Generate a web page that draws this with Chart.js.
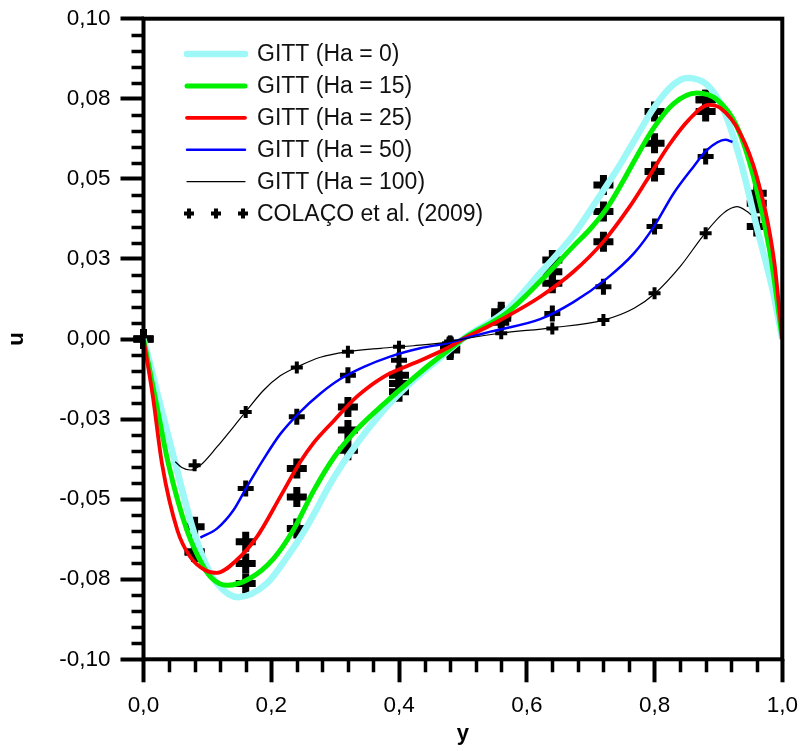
<!DOCTYPE html>
<html>
<head>
<meta charset="utf-8">
<script src="https://cdn.jsdelivr.net/npm/chart.js@4/dist/chart.umd.min.js"></script>
<style>
  html, body { margin: 0; padding: 0; background: #fff; }
  #wrap { width: 800px; height: 751px; position: relative; }
</style>
</head>
<body>
<div id="wrap"><canvas id="chart"></canvas></div>
<script>
// Velocity profiles u(y) across the channel, GITT solution for several Hartmann numbers
const xHa0 = [0, 0.012, 0.023, 0.05, 0.078, 0.097, 0.115, 0.148, 0.193, 0.225, 0.25, 0.27, 0.29, 0.31, 0.33, 0.35, 0.386, 0.423, 0.46, 0.5, 0.569, 0.621, 0.673, 0.71, 0.74, 0.767, 0.799, 0.83, 0.851, 0.882, 0.908, 0.934, 0.96, 0.986, 1];
const uHa0 = [0, -0.009, -0.018, -0.039, -0.0597, -0.070, -0.0763, -0.0806, -0.0763, -0.068, -0.0605, -0.0535, -0.046, -0.0395, -0.0338, -0.0285, -0.020, -0.0128, -0.0066, 0, 0.0091, 0.0206, 0.0325, 0.0434, 0.0525, 0.0615, 0.0722, 0.0795, 0.0815, 0.0794, 0.0716, 0.056, 0.035, 0.0143, 0];

const xHa15 = [0, 0.018, 0.039, 0.068, 0.091, 0.107, 0.131, 0.167, 0.204, 0.235, 0.266, 0.298, 0.329, 0.371, 0.412, 0.449, 0.491, 0.5, 0.569, 0.621, 0.673, 0.70, 0.726, 0.75, 0.768, 0.799, 0.83, 0.866, 0.898, 0.929, 0.955, 0.981, 1];
const uHa15 = [0, -0.018, -0.039, -0.0597, -0.070, -0.0747, -0.0769, -0.0747, -0.0685, -0.0595, -0.0475, -0.037, -0.0293, -0.0212, -0.014, -0.0078, -0.0014, 0, 0.0082, 0.018, 0.029, 0.0345, 0.041, 0.049, 0.0555, 0.066, 0.0735, 0.0768, 0.0747, 0.0663, 0.0507, 0.0268, 0];

const xHa25 = [0, 0.0147, 0.029, 0.053, 0.073, 0.0966, 0.115, 0.146, 0.1775, 0.214, 0.245, 0.266, 0.298, 0.334, 0.376, 0.423, 0.475, 0.5, 0.55, 0.621, 0.673, 0.72, 0.76, 0.786, 0.8225, 0.854, 0.885, 0.903, 0.934, 0.96, 0.987, 1];
const uHa25 = [0, -0.018, -0.039, -0.0597, -0.068, -0.0722, -0.073, -0.069, -0.0618, -0.0493, -0.0385, -0.0325, -0.0255, -0.018, -0.0118, -0.0076, -0.0029, 0, 0.005, 0.0132, 0.021, 0.0304, 0.041, 0.049, 0.0605, 0.0685, 0.0731, 0.0721, 0.0643, 0.0507, 0.0247, 0];

const xHa50 = [0.089, 0.115, 0.141, 0.162, 0.188, 0.214, 0.245, 0.277, 0.308, 0.345, 0.386, 0.433, 0.475, 0.5, 0.543, 0.621, 0.673, 0.726, 0.768, 0.799, 0.83, 0.861, 0.882, 0.911, 0.922];
const uHa50 = [-0.062, -0.0592, -0.0534, -0.0461, -0.0375, -0.0297, -0.0228, -0.017, -0.0125, -0.0087, -0.0055, -0.0029, -0.0013, 0, 0.0023, 0.0062, 0.0115, 0.019, 0.0268, 0.0351, 0.0455, 0.0538, 0.059, 0.0622, 0.0615];

const xHa100 = [0.0496, 0.06, 0.073, 0.089, 0.115, 0.141, 0.162, 0.188, 0.214, 0.245, 0.277, 0.318, 0.371, 0.423, 0.475, 0.5, 0.558, 0.639, 0.72, 0.768, 0.801, 0.84, 0.879, 0.908, 0.929, 0.945, 0.951];
const uHa100 = [-0.0383, -0.0401, -0.0409, -0.0394, -0.0337, -0.0274, -0.0222, -0.016, -0.0115, -0.0083, -0.0057, -0.004, -0.0029, -0.0021, -0.001, 0, 0.0018, 0.0035, 0.0059, 0.0096, 0.0143, 0.0226, 0.033, 0.0393, 0.0413, 0.0398, 0.0388];

// Reference values, COLAÇO et al. (2009)
const colacoX = [0, 0.08, 0.16, 0.24, 0.32, 0.40, 0.48, 0.56, 0.64, 0.72, 0.80, 0.88, 0.96];
const colacoHa0 = [0, -0.0586, -0.0763, -0.0592, -0.0347, -0.0165, -0.0034, 0.0085, 0.0247, 0.0481, 0.071, 0.0747, 0.0351];
const colacoHa15 = [0, -0.0665, -0.0701, -0.0493, -0.0284, -0.0139, -0.0029, 0.0075, 0.021, 0.0398, 0.0611, 0.0747, 0.0424];
const colacoHa25 = [0, -0.0665, -0.0633, -0.0404, -0.0212, -0.0113, -0.0024, 0.0065, 0.0174, 0.0304, 0.0523, 0.071, 0.0455];
const colacoHa50 = [0, -0.0586, -0.0467, -0.0243, -0.0113, -0.0066, -0.0015, 0.0049, 0.008, 0.0163, 0.0351, 0.057, 0.035];
const colacoHa100 = [0, -0.0394, -0.0228, -0.0089, -0.004, -0.0024, -0.0008, 0.0018, 0.0033, 0.0059, 0.0143, 0.033, null];

// Axis ticks
const xTickValues = [0, 0.2, 0.4, 0.6, 0.8, 1.0];
const xTickLabels = ['0,0', '0,2', '0,4', '0,6', '0,8', '1,0'];
const yTickValues = [-0.1, -0.075, -0.05, -0.025, 0, 0.025, 0.05, 0.075, 0.1];
const yTickLabels = ['-0,10', '-0,08', '-0,05', '-0,03', '0,00', '0,03', '0,05', '0,08', '0,10'];

const FONT = "'Liberation Sans', Arial, Helvetica, sans-serif";

const pts = (xs, ys) => xs.map((x, i) => ({ x: x, y: ys[i] }));

function curve(label, xs, ys, color, width, order) {
  return {
    label: label, data: pts(xs, ys), borderColor: color, backgroundColor: color,
    borderWidth: width, pointRadius: 0, cubicInterpolationMode: 'monotone',
    fill: false, order: order, isCurve: true
  };
}
function markers(xs, ys, radius, width, primary) {
  return {
    label: 'COLAÇO et al. (2009)', data: pts(xs, ys), showLine: false,
    pointStyle: 'cross', pointRadius: radius, pointBorderWidth: width,
    borderColor: '#000', backgroundColor: '#000', order: 20,
    clip: false, isMarker: primary
  };
}

const datasets = [
  curve('GITT (Ha = 0)', xHa0, uHa0, '#9ef8f8', 6.5, 5),
  curve('GITT (Ha = 15)', xHa15, uHa15, '#00f000', 5, 4),
  curve('GITT (Ha = 25)', xHa25, uHa25, '#ff0000', 3.8, 3),
  curve('GITT (Ha = 50)', xHa50, uHa50, '#0000ff', 2.5, 2),
  curve('GITT (Ha = 100)', xHa100, uHa100, '#000000', 1.2, 1),
  markers(colacoX, colacoHa0, 10, 7, true),
  markers(colacoX, colacoHa15, 10, 7, false),
  markers(colacoX, colacoHa25, 10, 7, false),
  markers(colacoX, colacoHa50, 8, 5, false),
  markers(colacoX, colacoHa100, 6, 4, false)
];

function labelFor(values, labels, v) {
  for (let i = 0; i < values.length; i++) {
    if (Math.abs(values[i] - v) < 1e-9) return labels[i];
  }
  return '';
}

// Box frame, minor ticks and the legend panel
const decorPlugin = {
  id: 'decor',
  afterDraw(chart) {
    const { ctx, chartArea: a, scales } = chart;
    const sx = scales.x, sy = scales.y;
    ctx.save();
    ctx.strokeStyle = '#000';
    ctx.lineCap = 'butt';

    // minor ticks
    ctx.lineWidth = 3.5;
    ctx.beginPath();
    for (let k = -20; k <= 20; k++) {
      if (k % 5 === 0) continue;
      const py = Math.round(sy.getPixelForValue(k * 0.005)) + 0.5;
      ctx.moveTo(a.left - 12, py);
      ctx.lineTo(a.left, py);
    }
    for (let k = 0; k <= 25; k++) {
      if (k % 5 === 0) continue;
      const px = Math.round(sx.getPixelForValue(k * 0.04)) + 0.5;
      ctx.moveTo(px, a.bottom);
      ctx.lineTo(px, a.bottom + 13);
    }
    ctx.stroke();

    // frame
    ctx.lineWidth = 4;
    ctx.strokeRect(a.left, a.top, a.right - a.left, a.bottom - a.top);

    // legend
    const x0 = 185, x1 = 247, tx = 257, y0 = 54, dy = 31.9;
    const rows = chart.data.datasets.filter(d => d.isCurve || d.isMarker);
    ctx.font = '23px ' + FONT;
    ctx.textBaseline = 'middle';
    ctx.textAlign = 'left';
    rows.forEach((d, i) => {
      const y = y0 + dy * i;
      if (d.isCurve) {
        ctx.strokeStyle = d.borderColor;
        ctx.lineWidth = d.borderWidth;
        ctx.lineCap = 'round';
        ctx.beginPath();
        ctx.moveTo(x0 + 2, y);
        ctx.lineTo(x1 - 2, y);
        ctx.stroke();
      } else {
        ctx.strokeStyle = '#000';
        ctx.lineWidth = 4;
        ctx.lineCap = 'butt';
        [189, 216, 243].forEach(cx => {
          ctx.beginPath();
          ctx.moveTo(cx - 5, y); ctx.lineTo(cx + 5, y);
          ctx.moveTo(cx, y - 5); ctx.lineTo(cx, y + 5);
          ctx.stroke();
        });
      }
      ctx.fillStyle = '#111';
      ctx.fillText(d.label, tx, y + 1);
    });
    ctx.restore();
  }
};

const tickFont = { family: FONT, size: 22.5 };
const titleFont = { family: FONT, size: 22, weight: 'bold' };

new Chart(document.getElementById('chart'), {
  type: 'line',
  data: { datasets: datasets },
  plugins: [decorPlugin],
  options: {
    responsive: true,
    maintainAspectRatio: false,
    animation: false,
    events: [],
    layout: { padding: { top: 18.7, right: 17.7, left: 0, bottom: 0 } },
    plugins: { legend: { display: false }, tooltip: { enabled: false } },
    scales: {
      x: {
        type: 'linear', min: 0, max: 1,
        afterFit(s) { s.height = 91.7; s.paddingLeft = 0; s.paddingRight = 0; },
        afterBuildTicks(s) { s.ticks = xTickValues.map(v => ({ value: v })); },
        ticks: {
          callback: v => labelFor(xTickValues, xTickLabels, v),
          color: '#000', font: tickFont, padding: 10, maxRotation: 0, autoSkip: false
        },
        grid: { drawOnChartArea: false, drawTicks: true, tickLength: 23, tickWidth: 4, tickColor: '#000' },
        border: { display: false },
        title: { display: true, text: 'y', color: '#000', font: titleFont, padding: { top: 0, bottom: 4 } }
      },
      y: {
        type: 'linear', min: -0.1, max: 0.1,
        afterFit(s) { s.width = 143.5; s.paddingTop = 0; s.paddingBottom = 0; },
        afterBuildTicks(s) { s.ticks = yTickValues.map(v => ({ value: v })); },
        ticks: {
          callback: v => labelFor(yTickValues, yTickLabels, v),
          color: '#000', font: tickFont, padding: 10, autoSkip: false
        },
        grid: { drawOnChartArea: false, drawTicks: true, tickLength: 23, tickWidth: 4, tickColor: '#000' },
        border: { display: false },
        title: { display: true, text: 'u', color: '#000', font: titleFont, padding: { top: 4, bottom: 0 } }
      }
    }
  }
});
</script>
</body>
</html>
